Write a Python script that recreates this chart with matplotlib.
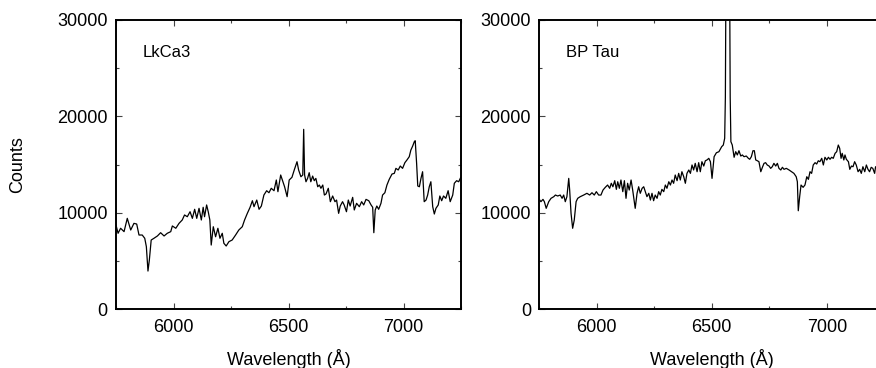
import matplotlib
matplotlib.use("Agg")
import matplotlib.pyplot as plt
from matplotlib.ticker import MultipleLocator

plt.rcParams["font.family"] = ["Liberation Sans", "DejaVu Sans"]

# LkCa3 spectrum (wavelength in Angstrom, counts)
lkca3_wave = [5750, 5759, 5770, 5785, 5799, 5814, 5828, 5840, 5850, 5864, 5875, 5882, 5889, 5895,
              5903, 5915, 5930, 5944, 5959, 5973, 5988, 5995, 6010, 6024, 6038, 6048, 6060, 6072,
              6082, 6092, 6101, 6111, 6121, 6129, 6135, 6144, 6151, 6158, 6164, 6173, 6183, 6193,
              6202, 6212, 6219, 6229, 6241, 6255, 6270, 6284, 6299, 6309, 6321, 6333, 6343, 6350,
              6362, 6372, 6382, 6393, 6405, 6415, 6425, 6437, 6447, 6454, 6466, 6476, 6483, 6494,
              6503, 6515, 6525, 6537, 6544, 6554, 6562, 6566, 6570, 6576, 6583, 6590, 6597, 6605,
              6612, 6619, 6627, 6634, 6641, 6649, 6656, 6663, 6673, 6682, 6692, 6702, 6709, 6718,
              6725, 6735, 6742, 6752, 6760, 6768, 6779, 6786, 6796, 6808, 6818, 6827, 6837, 6849,
              6859, 6866, 6871, 6877, 6884, 6892, 6902, 6909, 6919, 6928, 6938, 6950, 6960, 6967,
              6977, 6986, 6996, 7006, 7015, 7025, 7032, 7040, 7047, 7051, 7057, 7062, 7069, 7076,
              7083, 7090, 7098, 7105, 7112, 7119, 7127, 7134, 7141, 7151, 7158, 7166, 7174, 7184,
              7194, 7203, 7214, 7221, 7231, 7240, 7249]
lkca3_counts = [8720, 7860, 8380, 8030, 9410, 8200, 8890, 8820, 7680, 7680, 7340, 6470, 3940, 5090,
                7160, 7340, 7580, 7920, 7580, 7860, 8030, 8620, 8380, 8890, 9240, 9760, 9580, 10100,
                9410, 10350, 9410, 10450, 9240, 10560, 9580, 10800, 10100, 9240, 6640, 8540, 7500, 8380,
                7340, 7860, 6820, 6540, 6990, 7160, 7680, 8200, 8540, 9240, 9930, 10560, 11240, 10620,
                11310, 10350, 10690, 11830, 12280, 12070, 12530, 12280, 13390, 12180, 13910, 13210, 12690, 11660,
                13390, 13670, 14430, 15290, 14430, 13730, 13910, 18650, 13910, 13210, 13560, 14150, 13210, 13800,
                13320, 13560, 12690, 12870, 12530, 12870, 11830, 11940, 12530, 11140, 11730, 11140, 11310, 9930,
                10690, 11140, 10800, 10100, 11310, 10690, 11590, 10280, 10970, 10620, 11140, 10800, 11380, 11240,
                10800, 10560, 7920, 10280, 10690, 10350, 10970, 11830, 12070, 12870, 13460, 14010, 14080, 14600,
                14430, 14840, 14600, 15190, 15470, 15810, 16500, 16920, 17370, 17470, 15120, 12770, 12690, 13560,
                14250, 11140, 11310, 11830, 12690, 13210, 10620, 9860, 10450, 10800, 11730, 11240, 11730, 11490,
                12280, 11140, 11830, 13050, 13320, 13210, 13670]

# BP Tau spectrum
bptau_wave = [5752, 5757, 5766, 5772, 5780, 5791, 5801, 5813, 5820, 5830, 5841, 5849, 5856, 5863,
              5870, 5878, 5882, 5888, 5895, 5902, 5910, 5917, 5928, 5943, 5957, 5969, 5979, 5989,
              5998, 6008, 6018, 6027, 6037, 6047, 6056, 6063, 6070, 6078, 6085, 6091, 6098, 6105,
              6113, 6120, 6127, 6134, 6141, 6149, 6156, 6163, 6167, 6175, 6182, 6189, 6197, 6204,
              6211, 6218, 6226, 6233, 6240, 6247, 6254, 6262, 6269, 6276, 6283, 6291, 6298, 6305,
              6313, 6320, 6327, 6334, 6341, 6349, 6356, 6363, 6370, 6378, 6385, 6392, 6400, 6407,
              6414, 6421, 6428, 6436, 6443, 6450, 6457, 6465, 6472, 6479, 6487, 6494, 6501, 6510,
              6520, 6531, 6543, 6550, 6556, 6559, 6561, 6570, 6578, 6580, 6583, 6589, 6597, 6604,
              6611, 6618, 6626, 6633, 6640, 6650, 6659, 6665, 6672, 6679, 6685, 6691, 6698, 6705,
              6713, 6720, 6727, 6734, 6741, 6749, 6756, 6763, 6770, 6778, 6785, 6792, 6800, 6807,
              6814, 6824, 6836, 6847, 6857, 6867, 6872, 6876, 6882, 6888, 6897, 6905, 6913, 6920,
              6927, 6934, 6941, 6949, 6956, 6963, 6970, 6978, 6985, 6992, 7000, 7007, 7014, 7021,
              7028, 7036, 7043, 7050, 7056, 7062, 7067, 7074, 7079, 7085, 7094, 7100, 7107, 7114,
              7121, 7128, 7136, 7143, 7150, 7157, 7165, 7172, 7179, 7186, 7193, 7200, 7208, 7212,
              7230, 7250]
bptau_counts = [11310, 11140, 11380, 11140, 10450, 11140, 11490, 11660, 11830, 11730, 11830, 11490, 11830, 11140,
                11660, 13560, 12350, 9930, 8380, 9240, 11140, 11490, 11660, 11830, 12010, 11830, 12070, 11830,
                12180, 11830, 11830, 12350, 12630, 12870, 12530, 13050, 12690, 13320, 12420, 13210, 12530, 13390,
                12180, 13320, 11490, 13050, 12350, 13390, 12350, 11140, 10450, 12010, 12690, 12010, 12530, 12690,
                12180, 11660, 12010, 11310, 12010, 11240, 11830, 11490, 12180, 11830, 12420, 12180, 12870, 12530,
                13210, 12870, 13390, 13050, 13910, 13320, 14080, 13390, 14250, 13730, 13050, 14080, 14430, 14080,
                14950, 14430, 15120, 14250, 15190, 14250, 15290, 14840, 15390, 15470, 15640, 15290, 13560, 15810,
                16220, 16330, 16850, 17020, 17720, 22000, 32000, 60000, 32000, 22000, 17370, 17020, 15750, 16330,
                15990, 16430, 15880, 15990, 15810, 15880, 15640, 15540, 15810, 16430, 16430, 15470, 15390, 15290,
                14250, 14710, 15120, 15190, 14950, 14840, 14600, 14770, 15120, 14840, 15120, 14600, 14430, 14710,
                14500, 14600, 14430, 14250, 14080, 13730, 13210, 10200, 11660, 12870, 12630, 12870, 13730, 13460,
                14250, 14080, 14950, 15190, 15050, 15390, 15290, 15640, 14950, 15750, 15470, 15750, 15540, 15750,
                15640, 16160, 16330, 17020, 16680, 15640, 16160, 15470, 15990, 15540, 15290, 14500, 14840, 14770,
                15290, 14950, 14250, 14500, 14080, 14770, 14250, 14950, 14500, 14250, 14710, 14600, 14080, 14770,
                14500, 14300]

names = ["LkCa3", "BP Tau"]
waves = [lkca3_wave, bptau_wave]
counts = [lkca3_counts, bptau_counts]

W, H = 876, 368
fig = plt.figure(figsize=(W / 100, H / 100), dpi=100)
lefts = [116, 539.3]

for left, name, wv, ct in zip(lefts, names, waves, counts):
    ax = fig.add_axes([left / W, (H - 309) / H, 345 / W, 289 / H])
    ax.plot(wv, ct, color="black", linewidth=0.9)
    ax.set_xlim(5750, 7250)
    ax.set_ylim(0, 30000)
    ax.xaxis.set_major_locator(MultipleLocator(500))
    ax.xaxis.set_minor_locator(MultipleLocator(250))
    ax.yaxis.set_major_locator(MultipleLocator(10000))
    ax.yaxis.set_minor_locator(MultipleLocator(5000))
    ax.tick_params(which="both", direction="in", top=True, right=True,
                   labelsize=13, width=0.8, color="#444444")
    ax.tick_params(which="major", length=4, pad=6)
    ax.tick_params(axis="x", which="major", pad=7)
    ax.tick_params(which="minor", length=2.5)
    for sp in ax.spines.values():
        sp.set_linewidth(1.4)
    ax.set_xlabel("Wavelength (Å)", fontsize=13, labelpad=9.5)
    ax.text(0.076, 0.886, name, transform=ax.transAxes, fontsize=12, va="center", ha="left")

fig.text(18 / W, 1 - 165 / H, "Counts", rotation=90, fontsize=13, ha="center", va="center")

fig.savefig("out.png", dpi=100)
